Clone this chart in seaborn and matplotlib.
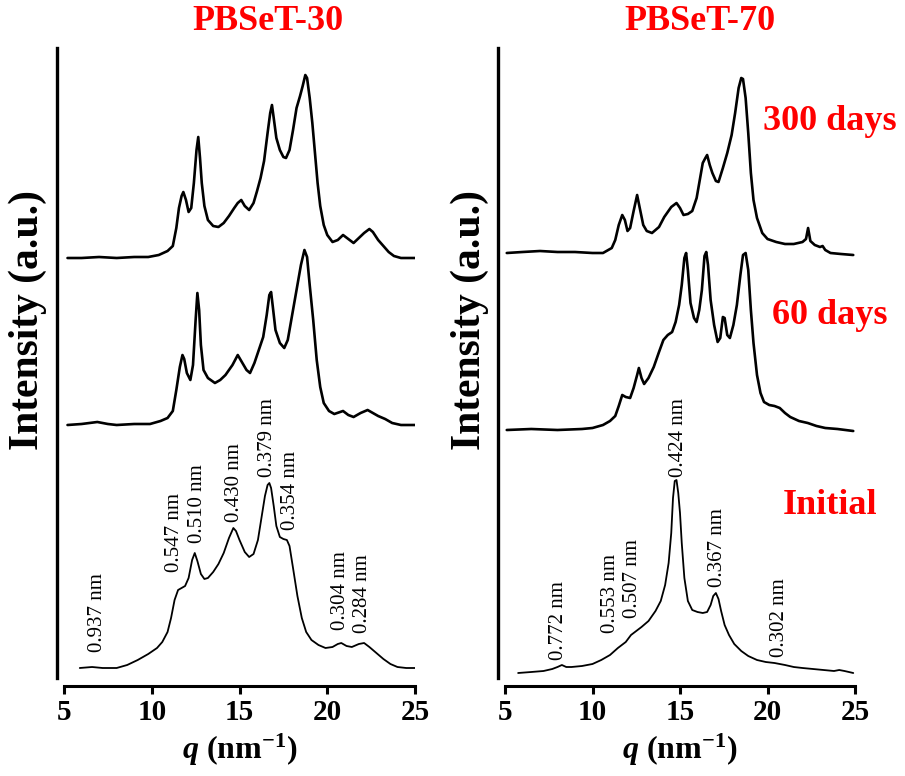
import numpy as np
import pandas as pd
import matplotlib
matplotlib.use("Agg")
import matplotlib.pyplot as plt
import seaborn as sns

# ---------------- data ----------------
# PBSeT-30 : scattering vector q (nm^-1) and intensity (a.u.)
q30_initial = [5.9, 6.6, 7.2, 8.0, 8.6, 9.2, 9.8, 10.3, 10.6, 10.9, 11.1, 11.3, 11.5, 11.7, 11.9,
               12.1, 12.3, 12.45, 12.6, 12.8, 13.0, 13.2, 13.5, 13.8, 14.1, 14.4, 14.65, 14.8,
               15.0, 15.3, 15.55, 15.8, 16.05, 16.25, 16.45, 16.6, 16.7, 16.8, 16.95, 17.1,
               17.3, 17.5, 17.7, 17.85, 18.05, 18.3, 18.55, 18.8, 19.1, 19.5, 19.9, 20.3, 20.6,
               20.8, 21.1, 21.4, 21.8, 22.1, 22.4, 22.8, 23.2, 23.6, 24.0, 24.5, 25.0]
i30_initial = [0, 1, 0, 0, 3, 8, 14, 20, 26, 36, 50, 68, 78, 80, 82,
               90, 108, 115, 107, 94, 89, 90, 96, 104, 115, 130, 140, 137,
               128, 116, 111, 114, 128, 150, 172, 183, 185, 180, 162, 142,
               131, 129, 128, 122, 100, 72, 50, 36, 28, 23, 20, 21, 24,
               25, 22, 21, 24, 25, 21, 15, 9, 4, 1, 0, 0]

q30_60d = [5.2, 6.0, 6.9, 7.5, 8.0, 9.0, 9.9, 10.5, 10.9, 11.2, 11.4, 11.6, 11.75, 11.85, 12.0,
           12.2, 12.35, 12.5, 12.6, 12.7, 12.8, 12.95, 13.2, 13.6, 13.9, 14.2, 14.6, 14.9, 15.1,
           15.4, 15.6, 15.85, 16.1, 16.35, 16.55, 16.7, 16.8, 16.9, 17.05, 17.3, 17.55, 17.75,
           17.95, 18.15, 18.35, 18.5, 18.7, 18.85, 19.0, 19.2, 19.4, 19.6, 19.8, 20.1, 20.4,
           20.9, 21.2, 21.5, 21.9, 22.3, 22.5, 22.9, 23.3, 23.7, 24.2, 25.0]
i30_60d = [0, 1, 3, 1, 0, 1, 1, 4, 7, 14, 35, 58, 70, 66, 52,
           45, 60, 105, 132, 115, 80, 55, 47, 42, 45, 50, 60, 70, 64,
           55, 52, 62, 75, 88, 110, 130, 133, 118, 95, 82, 77, 85,
           105, 125, 145, 160, 175, 168, 140, 105, 65, 38, 22, 14, 11,
           14, 10, 8, 12, 15, 13, 9, 6, 2, 0, 0]

q30_300d = [5.2, 6.0, 7.0, 8.0, 9.0, 9.8, 10.4, 10.9, 11.2, 11.4, 11.55, 11.7, 11.8, 11.95, 12.1,
            12.25, 12.4, 12.55, 12.65, 12.75, 12.85, 13.0, 13.2, 13.5, 13.8, 14.1, 14.4, 14.7,
            14.9, 15.1, 15.3, 15.55, 15.8, 16.0, 16.2, 16.4, 16.6, 16.75, 16.85, 16.95, 17.1,
            17.3, 17.5, 17.65, 17.85, 18.05, 18.25, 18.45, 18.6, 18.75, 18.85, 19.0, 19.15,
            19.3, 19.45, 19.6, 19.8, 20.0, 20.3, 20.6, 20.9, 21.2, 21.5, 21.8, 22.1, 22.4,
            22.6, 22.9, 23.2, 23.5, 23.8, 24.2, 25.0]
i30_300d = [0, 0, 1, 0, 1, 1, 3, 7, 12, 30, 50, 62, 66, 58, 46,
            50, 75, 108, 121, 100, 75, 52, 38, 32, 31, 35, 42, 50,
            55, 58, 52, 48, 55, 67, 80, 97, 125, 145, 153, 140, 120,
            108, 101, 100, 108, 128, 150, 162, 172, 183, 180, 160, 135,
            105, 75, 52, 33, 23, 16, 18, 23, 19, 15, 20, 25, 29,
            26, 18, 12, 6, 2, 0, 0]

# PBSeT-70
q70_initial = [5.75, 6.5, 7.2, 7.7, 8.0, 8.25, 8.5, 8.8, 9.4, 10.0, 10.5, 11.0, 11.45, 11.9, 12.2,
               12.5, 12.8, 13.2, 13.6, 13.9, 14.15, 14.35, 14.5, 14.6, 14.7, 14.8, 14.9, 15.0,
               15.1, 15.25, 15.45, 15.7, 16.0, 16.3, 16.55, 16.75, 16.9, 17.05, 17.2, 17.35,
               17.55, 17.8, 18.1, 18.5, 18.9, 19.4, 19.9, 20.4, 20.7, 21.0, 21.5, 22.0, 22.6,
               23.2, 23.8, 24.1, 24.4, 24.9]
i70_initial = [0, 1, 2, 4, 6, 8, 6, 6, 7, 9, 13, 18, 25, 31, 38,
               42, 46, 52, 62, 72, 88, 110, 140, 175, 192, 193, 180, 160,
               130, 95, 72, 63, 61, 60, 61, 68, 77, 80, 74, 62,
               48, 38, 29, 22, 17, 13, 11, 10, 9, 8, 6, 5, 4,
               3, 2, 3, 2, 0]

q70_60d = [5.1, 6.5, 8.0, 9.4, 10.0, 10.6, 11.0, 11.3, 11.5, 11.7, 11.9, 12.15, 12.35, 12.55,
           12.65, 12.8, 12.95, 13.2, 13.5, 13.8, 14.05, 14.3, 14.55, 14.75, 14.95, 15.1, 15.25,
           15.35, 15.45, 15.6, 15.8, 15.95, 16.1, 16.25, 16.4, 16.5, 16.6, 16.75, 16.95, 17.15,
           17.3, 17.45, 17.55, 17.7, 17.85, 18.05, 18.25, 18.45, 18.6, 18.75, 18.9, 19.05,
           19.2, 19.4, 19.6, 19.8, 20.1, 20.4, 20.7, 21.0, 21.3, 21.8, 22.3, 22.8, 23.3, 24.0,
           24.9]
i70_60d = [0, 1, 0, 1, 2, 5, 9, 14, 24, 35, 33, 32, 42, 55,
           62, 52, 46, 52, 63, 78, 90, 95, 98, 108, 125, 145, 172,
           177, 160, 127, 112, 108, 120, 140, 174, 178, 165, 130, 105, 88,
           92, 113, 112, 95, 92, 105, 125, 155, 175, 177, 160, 120,
           87, 55, 37, 28, 25, 24, 22, 17, 13, 9, 7, 4, 2, 1,
           -1]

q70_300d = [5.1, 6.0, 7.0, 8.0, 9.0, 10.0, 10.6, 11.1, 11.3, 11.5, 11.7, 11.85, 12.0, 12.15,
            12.35, 12.55, 12.7, 12.9, 13.1, 13.4, 13.8, 14.1, 14.5, 14.8, 15.0, 15.2, 15.45,
            15.7, 15.95, 16.15, 16.3, 16.45, 16.55, 16.7, 16.85, 17.05, 17.2, 17.45, 17.7,
            17.95, 18.15, 18.35, 18.5, 18.6, 18.75, 18.9, 19.05, 19.2, 19.4, 19.7, 20.0, 20.5,
            21.0, 21.5, 22.0, 22.2, 22.32, 22.45, 22.7, 23.0, 23.15, 23.3, 23.6, 24.2, 24.9]
i70_300d = [0, 1, 2, 1, 1, 0, 0, 5, 13, 28, 38, 33, 22, 25,
            42, 58, 45, 28, 22, 20, 26, 36, 46, 50, 45, 38, 39,
            42, 55, 75, 90, 95, 98, 88, 80, 72, 71, 85, 100,
            118, 140, 165, 175, 174, 155, 120, 80, 53, 35, 20, 14, 11,
            9, 9, 11, 14, 25, 12, 8, 6, 7, 3, 0, -1, -2]

# d-spacings (nm) marked on the initial patterns; peak position q = 2*pi/d
d30_labels = [0.937, 0.547, 0.510, 0.430, 0.379, 0.354, 0.304, 0.284]
d70_labels = [0.772, 0.553, 0.507, 0.424, 0.367, 0.302]

stage_names = ["Initial", "60 days", "300 days"]
panel_titles = ["PBSeT-30", "PBSeT-70"]
x_ticks = [5, 10, 15, 20, 25]

# ---------------- layout / style ----------------
offsets30 = [10, 253, 420]          # vertical stacking of the three patterns
offsets70 = [5, 248, 425]
label_base30 = [26, 106, 135, 156, 201, 148, 48, 45]   # bottom of each d-spacing label
label_base70 = [18, 45, 60, 201, 91, 21]
label_shift30 = [0.23, -0.17, 0.26, 0.13, 0.04, 0.13, 0.06, -0.14]   # small sideways nudges
label_shift70 = [-0.11, -0.36, -0.13, 0.07, 0.05, -0.10]
line_widths = [1.3, 1.9, 1.9]

sns.set_theme(style="white")
plt.rcParams["font.family"] = ["Liberation Serif", "DejaVu Serif"]
plt.rcParams["text.color"] = "black"
plt.rcParams["axes.labelcolor"] = "black"
plt.rcParams["xtick.color"] = "black"
plt.rcParams["mathtext.fontset"] = "custom"
plt.rcParams["mathtext.rm"] = "Liberation Serif"
plt.rcParams["mathtext.bf"] = "Liberation Serif:bold"
plt.rcParams["mathtext.it"] = "Liberation Serif:italic"
plt.rcParams["mathtext.bfit"] = "Liberation Serif:bold:italic"

W, H = 905, 776
fig = plt.figure(figsize=(W / 100, H / 100), dpi=100)
ax30 = fig.add_axes([64 / W, 1 - 678 / H, 351 / W, 630 / H])
ax70 = fig.add_axes([505 / W, 1 - 678 / H, 350 / W, 630 / H])

panels = [
    (ax30, [(q30_initial, i30_initial), (q30_60d, i30_60d), (q30_300d, i30_300d)],
     offsets30, d30_labels, label_base30, label_shift30),
    (ax70, [(q70_initial, i70_initial), (q70_60d, i70_60d), (q70_300d, i70_300d)],
     offsets70, d70_labels, label_base70, label_shift70),
]

for ax, curves, offs, dlist, lbase, lshift in panels:
    frames = []
    for (q, inten), off, name in zip(curves, offs, stage_names):
        frames.append(pd.DataFrame({"q": q, "I": np.asarray(inten, float) + off, "stage": name}))
    df = pd.concat(frames, ignore_index=True)
    for name, lw in zip(stage_names, line_widths):
        sns.lineplot(data=df[df["stage"] == name], x="q", y="I", ax=ax, color="black",
                     lw=lw, estimator=None, sort=False)
    for d, yb, dx in zip(dlist, lbase, lshift):
        ax.text(2 * np.pi / d + dx, yb, f"{d:.3f} nm", rotation=90, ha="center", va="bottom",
                fontsize=15, color="black")

    # spines first: repositioning a spine resets the tick labels
    for side in ("top", "right"):
        ax.spines[side].set_visible(False)
    ax.spines["left"].set_position(("outward", 5))
    ax.spines["bottom"].set_position(("outward", 6))
    ax.spines["left"].set_linewidth(2.4)
    ax.spines["bottom"].set_linewidth(2.2)
    ax.spines["left"].set_color("black")
    ax.spines["bottom"].set_color("black")

    ax.set_xlim(5, 25)
    ax.set_ylim(0, 630)
    ax.set_xticks(x_ticks)
    ax.set_xticklabels([str(t) for t in x_ticks], fontsize=21, fontweight="bold")
    ax.set_yticks([])
    ax.set_ylabel("")
    ax.set_xlabel(r"$\mathbfit{q}$ $\mathbf{(nm^{-1})}$", fontsize=23, labelpad=4)
    ax.tick_params(axis="x", direction="out", length=6, width=2.2, pad=3, colors="black",
                   bottom=True)
    ax.patch.set_alpha(0)

# axis titles, panel titles and stage labels
for xpix in (28, 470):
    fig.text(xpix / W, 1 - 320 / H, "Intensity (a.u.)", rotation=90, ha="center",
             va="center", fontsize=30, fontweight="bold")
for xpix, title in zip([268, 700], panel_titles):
    fig.text(xpix / W, 1 - 22 / H, title, ha="center", va="center", fontsize=26,
             fontweight="bold", color="red")
for ypix, name in zip([506, 315, 122], stage_names):
    fig.text(830 / W, 1 - ypix / H, name, ha="center", va="center", fontsize=26,
             fontweight="bold", color="red")

fig.savefig("out.png", dpi=100)
